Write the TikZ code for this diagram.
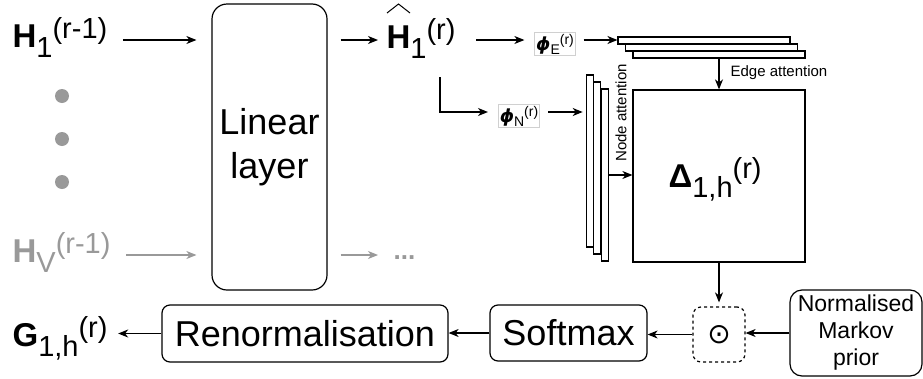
\documentclass[tikz,border=0pt]{standalone}
\usepackage{fontspec}
\setmainfont{Liberation Sans}
\newfontfamily\symfont{DejaVu Sans}
\usetikzlibrary{arrows.meta,calc}
\definecolor{fade}{HTML}{999999}
\definecolor{lblframe}{HTML}{D0D0D0}

% symbol with subscript and superscript set one after the other
\newcommand\symlab[3]{{\fontsize{33}{33}\selectfont\bfseries #1}{\fontsize{29}{29}\selectfont\raisebox{-10pt}{#2}\raisebox{9pt}{#3}}}
% small projection symbol phi
\newcommand\philab[2]{{\fontsize{18}{18}\selectfont\symfont\bfseries\itshape ϕ}{\fontsize{14}{14}\selectfont\raisebox{-4pt}{#1}\raisebox{6pt}{#2}}}

\begin{document}
\begin{tikzpicture}[x=1pt,y=-1pt,line width=1.2pt,
  arr/.style={-{Stealth[length=10pt,width=8pt,inset=3pt]}},
  box/.style={draw,rounded corners=#1,fill=white,inner sep=0pt},
  strip/.style={draw,fill=white,inner sep=0pt,line width=1.1pt},
  lab/.style={anchor=base west,inner sep=0pt},
  philbl/.style={draw=lblframe,line width=0.6pt,inner sep=1.5pt,fill=white},
  small/.style={font=\fontsize{15}{15}\selectfont},
  big/.style={font=\fontsize{36}{44}\selectfont,align=center}]
\useasboundingbox (0,0) rectangle (923,378);

% horizontal rows used by the connectors
\coordinate (rowA) at (0,40);
\coordinate (rowN) at (0,112);
\coordinate (rowV) at (0,255);

% inputs
\node[lab] (h1) at (12,47) {\symlab{H}{1}{(r-1)}};
\node[lab,text=fade] (hv) at (12,262) {\symlab{H}{V}{(r-1)}};
\foreach \i/\y in {1/96,2/139,3/182}
  \node[circle,fill=fade,minimum size=14pt,inner sep=0pt] (dot\i) at (62,\y) {};

% linear layer
\node[box=15,big,minimum width=115pt,minimum height=286pt] (lin) at (269.5,147) {Linear\\layer};

% projected features
\node[lab] (hh) at (386,48) {\symlab{H}{1}{(r)}};
\draw[line width=1pt] ($(hh.base west)+(1,-35)$) -- ++(11.5,-9) -- ++(11.5,9);
\node[lab,text=fade] (more) at (393,259) {\fontsize{26}{26}\selectfont\bfseries ...};

\node[philbl] (phiE) at (555,44) {\philab{E}{(r)}};
\node[philbl] (phiN) at (519,116) {\philab{N}{(r)}};

% edge attention stack
\node[strip,minimum width=172pt,minimum height=7pt] (e3) at (719,54.5) {};
\node[strip,minimum width=172pt,minimum height=7pt] (e2) at (711.5,47.5) {};
\node[strip,minimum width=172pt,minimum height=7pt] (e1) at (704,40.5) {};

% node attention stack
\node[strip,minimum width=7pt,minimum height=172pt] (n3) at (604.75,175) {};
\node[strip,minimum width=7pt,minimum height=172pt] (n2) at (597.25,168) {};
\node[strip,minimum width=7pt,minimum height=172pt] (n1) at (589.75,161) {};

% attention matrix
\node[draw,inner sep=0pt,minimum width=172pt,minimum height=172pt] (sq) at (719,176) {};
\node[lab] (delta) at (668,187) {\symlab{Δ}{1,h}{(r)}};

\node[small,anchor=west,inner sep=0pt] (eatt) at (730,73) {Edge attention};
\node[small,rotate=90,inner sep=0pt] (natt) at (621,113) {Node attention};

% bottom row
\node[box=8,big,minimum width=286pt,minimum height=57pt] (renorm) at (305,333.5) {Renormalisation};
\node[box=8,big,minimum width=157pt,minimum height=56pt] (soft) at (568.5,333) {Softmax};
\node[box=8,dashed,minimum width=52pt,minimum height=55pt,font=\fontsize{28}{28}\selectfont\symfont] (odot) at (719,334.5) {⊙};
\node[box=12,minimum width=132pt,minimum height=86pt,align=center,font=\fontsize{23}{27}\selectfont] (prior) at (856,333) {Normalised\\Markov\\prior};
\node[lab] (g) at (12,346) {\symlab{G}{1,h}{(r)}};

% connectors
\draw[arr,shorten <=15pt,shorten >=15pt] (h1.east |- rowA) -- (lin.west |- rowA);
\draw[arr,fade,shorten <=15pt,shorten >=15pt] (hv.east |- rowV) -- (lin.west |- rowV);
\draw[arr,shorten <=13pt,shorten >=8pt] (lin.east |- rowA) -- (hh.west |- rowA);
\draw[arr,fade,shorten <=13pt,shorten >=15pt] (lin.east |- rowV) -- (more.west |- rowV);
\draw[arr,shorten <=20pt,shorten >=10pt] (hh.east |- rowA) -- (phiE.west |- rowA);
\draw[arr,shorten <=8pt] (phiE.east |- rowA) -- (e1.west |- rowA);
\coordinate (br) at (440,77);
\draw[arr,shorten >=10pt] (br) |- (phiN.west |- rowN);
\draw[arr,shorten <=8pt,shorten >=3pt] (phiN.east |- rowN) -- (n1.west |- rowN);
\draw[arr] (e3.south) -- (sq.north);
\draw[arr] (n3.east) -- (sq.west |- n3.east);
\draw[arr,shorten >=4pt] (sq.south) -- (odot.north);
\draw[arr] (prior.west) -- (odot.east |- prior.west);
\draw[arr] (odot.west) -- (soft.east |- odot.west);
\draw[arr] (soft.west) -- (renorm.east |- soft.west);
\draw[arr,shorten >=10pt] (renorm.west) -- (g.east |- renorm.west);
\end{tikzpicture}
\end{document}
